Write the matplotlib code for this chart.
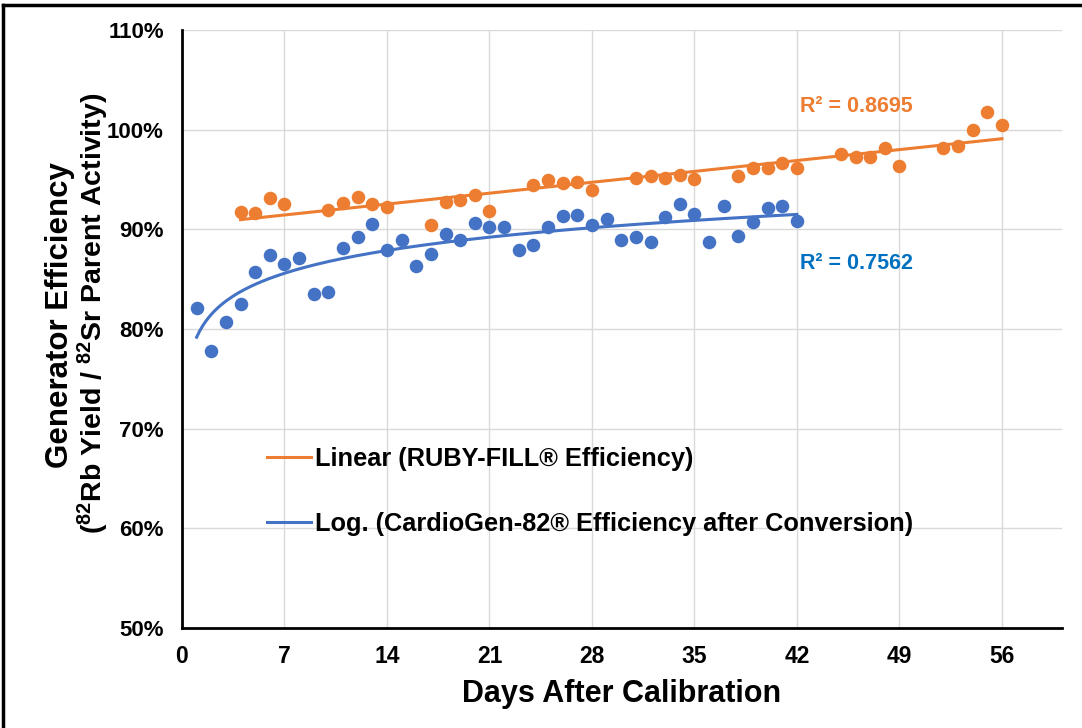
import matplotlib.pyplot as plt
import numpy as np
from matplotlib.lines import Line2D
from matplotlib.ticker import FuncFormatter

plt.rcParams['font.family'] = ['Liberation Sans', 'DejaVu Sans']
plt.rcParams['mathtext.default'] = 'regular'

ruby_days = [4, 5, 6, 7, 10, 11, 12, 13, 14, 17, 18, 19, 20, 21, 24, 25, 26, 27, 28,
             31, 32, 33, 34, 35, 38, 39, 40, 41, 42, 45, 46, 47, 48, 49, 52, 53, 54, 55, 56]
ruby_eff = [91.7, 91.6, 93.1, 92.5, 91.9, 92.6, 93.2, 92.5, 92.2, 90.4, 92.7, 92.9, 93.4, 91.8,
            94.4, 94.9, 94.6, 94.7, 93.9, 95.1, 95.3, 95.1, 95.5, 95.0, 95.3, 96.2, 96.2, 96.7,
            96.2, 97.6, 97.3, 97.3, 98.2, 96.4, 98.2, 98.4, 100.0, 101.8, 100.5]

cardio_days = list(range(1, 43))
cardio_eff = [82.1, 77.8, 80.7, 82.5, 85.7, 87.4, 86.5, 87.1, 83.5, 83.7, 88.1, 89.2, 90.5, 87.9,
              88.9, 86.3, 87.5, 89.5, 88.9, 90.6, 90.2, 90.2, 87.9, 88.4, 90.2, 91.3, 91.4, 90.4,
              91.0, 88.9, 89.2, 88.7, 91.2, 92.5, 91.5, 88.7, 92.3, 89.3, 90.7, 92.1, 92.3, 90.8]

x_ticks = [0, 7, 14, 21, 28, 35, 42, 49, 56]
y_ticks = [50, 60, 70, 80, 90, 100, 110]

orange = '#ED7D31'
blue = '#4472C4'

fig = plt.figure(figsize=(10.82, 7.28), dpi=100)
ax = fig.add_axes([0.1682, 0.1374, 0.8133, 0.8214])

# trendlines (excel style)
rx = np.array(ruby_days, dtype=float)
ry = np.array(ruby_eff)
m, b = np.polyfit(rx, ry, 1)
lx = np.linspace(rx.min(), rx.max(), 50)
ax.plot(lx, m * lx + b, color=orange, lw=2.2, zorder=2)

cx = np.array(cardio_days, dtype=float)
cy = np.array(cardio_eff)
a1, a0 = np.polyfit(np.log(cx), cy, 1)
gx = np.linspace(cx.min(), cx.max(), 200)
ax.plot(gx, a1 * np.log(gx) + a0, color=blue, lw=2.2, zorder=2)

ax.scatter(ruby_days, ruby_eff, s=95, color=orange, zorder=3, linewidths=0)
ax.scatter(cardio_days, cardio_eff, s=95, color=blue, zorder=3, linewidths=0)

ax.set_xlim(0, 60.1)
ax.set_ylim(50, 110)
ax.set_xticks(x_ticks)
ax.set_yticks(y_ticks)
ax.yaxis.set_major_formatter(FuncFormatter(lambda v, p: f'{v:.0f}%'))
ax.grid(True, color='#D9D9D9', lw=1)
ax.set_axisbelow(True)
for s in ['top', 'right']:
    ax.spines[s].set_visible(False)
for s in ['left', 'bottom']:
    ax.spines[s].set_linewidth(2)
    ax.spines[s].set_color('black')
ax.tick_params(length=0)
ax.tick_params(axis='y', pad=13)
ax.tick_params(axis='x', pad=12)
for t in ax.get_yticklabels():
    t.set_fontsize(16)
    t.set_fontweight('bold')
for t in ax.get_xticklabels():
    t.set_fontsize(16.5)
    t.set_fontweight('bold')

ax.set_xlabel('Days After Calibration', fontsize=22, fontweight='bold', labelpad=8)

# y label as two rotated lines
fig.text(0.0555, 0.567, 'Generator Efficiency', rotation=90, fontsize=22.5,
         fontweight='bold', ha='center', va='center')
fig.text(0.0865, 0.569, '($^{82}$Rb Yield / $^{82}$Sr Parent Activity)', rotation=90,
         fontsize=20.5, fontweight='bold', ha='center', va='center')

ax.text(42.2, 102.3, 'R² = 0.8695', color=orange, fontsize=15.5, fontweight='bold',
        va='center', ha='left')
ax.text(42.2, 86.6, 'R² = 0.7562', color='#0070C0', fontsize=15.5, fontweight='bold',
        va='center', ha='left')

handles = [Line2D([], [], color=orange, lw=2.2),
           Line2D([], [], color=blue, lw=2.2)]
labels = ['Linear (RUBY-FILL® Efficiency)',
          'Log. (CardioGen-82® Efficiency after Conversion)']
ax.legend(handles, labels, loc='upper left', bbox_to_anchor=(0.0966, 0.303), frameon=False,
          prop={'size': 18.3, 'weight': 'bold'}, handlelength=1.73, handletextpad=0.15,
          labelspacing=1.62, borderpad=0, borderaxespad=0)

# outer frame (top and left edges visible in the crop)
fig.add_artist(Line2D([0.003, 1.0], [0.993, 0.993], color='black', lw=2.5,
                      transform=fig.transFigure))
fig.add_artist(Line2D([0.003, 0.003], [0.0, 0.993], color='black', lw=2.5,
                      transform=fig.transFigure))

fig.savefig('out.png', dpi=100)
